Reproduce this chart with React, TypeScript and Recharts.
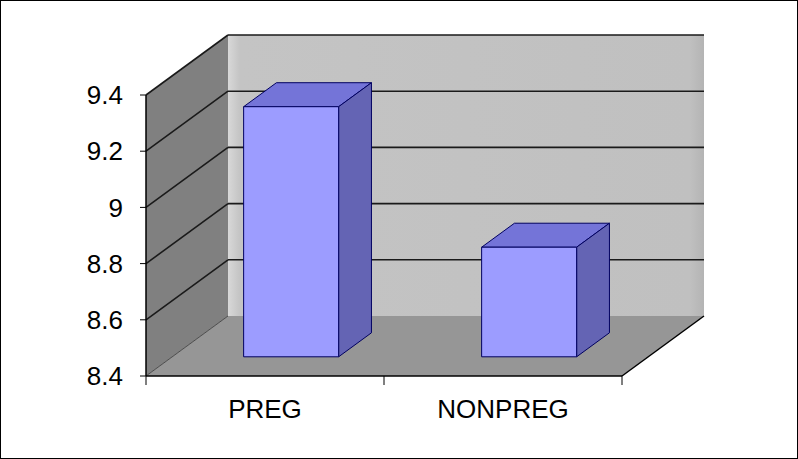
import React from 'react';
import { BarChart, Bar, XAxis, YAxis, ReferenceArea } from 'recharts';

// values
const categories = ['PREG', 'NONPREG'];
const values = [9.29, 8.79];
const yTicks = [8.4, 8.6, 8.8, 9, 9.2, 9.4];

const Y_MIN = 8.4;
const Y_MAX = 9.4;

// 3D depth of the box (back wall offset) and where the bars sit inside it
const DX = 82;
const DY = 60;
const F1 = 0.32;
const F2 = 0.72;

const data = categories.map((name, i) => ({ name, value: values[i] }));

const FONT = '"Liberation Sans", Arial, sans-serif';

const Walls = (props: any) => {
  const { x, y, width: w, height: h } = props;
  const yOf = (t: number) => y + (h * (Y_MAX - t)) / (Y_MAX - Y_MIN);
  const n = categories.length;
  return (
    <g>
      <defs>
        <linearGradient id="backWall" x1="0" y1="0" x2="1" y2="0">
          <stop offset="0" stopColor="#d8d8d8" />
          <stop offset="0.025" stopColor="#c4c4c4" />
          <stop offset="0.97" stopColor="#c0c0c0" />
          <stop offset="1" stopColor="#b4b4b4" />
        </linearGradient>
      </defs>
      {/* back wall */}
      <rect x={x + DX} y={y - DY} width={w} height={h} fill="url(#backWall)" />
      {/* left wall */}
      <polygon
        points={`${x},${y} ${x + DX},${y - DY} ${x + DX},${y + h - DY} ${x},${y + h}`}
        fill="#808080"
      />
      {/* floor */}
      <polygon
        points={`${x},${y + h} ${x + DX},${y + h - DY} ${x + w + DX},${y + h - DY} ${x + w},${y + h}`}
        fill="#969696"
      />
      {yTicks.map((t) => {
        const ty = yOf(t);
        if (t === Y_MIN) {
          return (
            <line key={t} x1={x} y1={ty} x2={x + DX} y2={ty - DY} stroke="#333" strokeWidth={0.8} />
          );
        }
        return (
          <g key={t}>
            <line x1={x} y1={ty} x2={x + DX} y2={ty - DY} stroke="#1a1a1a" strokeWidth={1.6} />
            <line x1={x + DX} y1={ty - DY} x2={x + w + DX} y2={ty - DY} stroke="#1a1a1a" strokeWidth={1.6} />
          </g>
        );
      })}
      {/* floor right edge */}
      <line x1={x + w} y1={y + h} x2={x + w + DX} y2={y + h - DY} stroke="#000" strokeWidth={1.5} />
      {/* category boundary ticks */}
      {Array.from({ length: n + 1 }, (_, i) => (
        <line
          key={i}
          x1={x + (i * w) / n}
          y1={y + h}
          x2={x + (i * w) / n}
          y2={y + h + 9}
          stroke="#000"
          strokeWidth={1}
        />
      ))}
    </g>
  );
};

const Box = (props: any) => {
  const { x, y, width: w, height: h } = props;
  const x0 = x + F1 * DX;
  const y0 = y - F1 * DY;
  const bx = (F2 - F1) * DX;
  const by = (F2 - F1) * DY;
  return (
    <g stroke="#000060" strokeWidth={1} strokeLinejoin="round">
      <polygon
        points={`${x0},${y0} ${x0 + bx},${y0 - by} ${x0 + w + bx},${y0 - by} ${x0 + w},${y0}`}
        fill="#7474d8"
      />
      <polygon
        points={`${x0 + w},${y0} ${x0 + w + bx},${y0 - by} ${x0 + w + bx},${y0 + h - by} ${x0 + w},${y0 + h}`}
        fill="#6464b4"
      />
      <rect x={x0} y={y0} width={w} height={h} fill="#9c9cff" />
    </g>
  );
};

export default function App() {
  return (
    <div
      style={{
        position: 'fixed',
        left: 0,
        top: 0,
        width: 798,
        height: 459,
        background: '#fff',
        border: '1px solid #000',
        boxSizing: 'border-box',
      }}
    >
      <BarChart
        width={796}
        height={457}
        data={data}
        margin={{ top: 94, right: 175, bottom: 0, left: 0 }}
        barCategoryGap="30%"
      >
        <XAxis
          dataKey="name"
          axisLine={{ stroke: '#000', strokeWidth: 1.5 }}
          tickLine={false}
          tickSize={0}
          tickMargin={24}
          height={82}
          tick={{ fill: '#000', fontSize: 26, fontFamily: FONT }}
        />
        <YAxis
          domain={[Y_MIN, Y_MAX]}
          ticks={yTicks}
          interval={0}
          width={145}
          axisLine={{ stroke: '#000', strokeWidth: 1.5 }}
          tickLine={{ stroke: '#000' }}
          tickSize={6}
          tickMargin={17}
          tick={{ fill: '#000', fontSize: 26, fontFamily: FONT }}
        />
        <ReferenceArea y1={Y_MIN} y2={Y_MAX} ifOverflow="visible" shape={<Walls />} />
        <Bar dataKey="value" shape={<Box />} isAnimationActive={false} />
      </BarChart>
    </div>
  );
}
